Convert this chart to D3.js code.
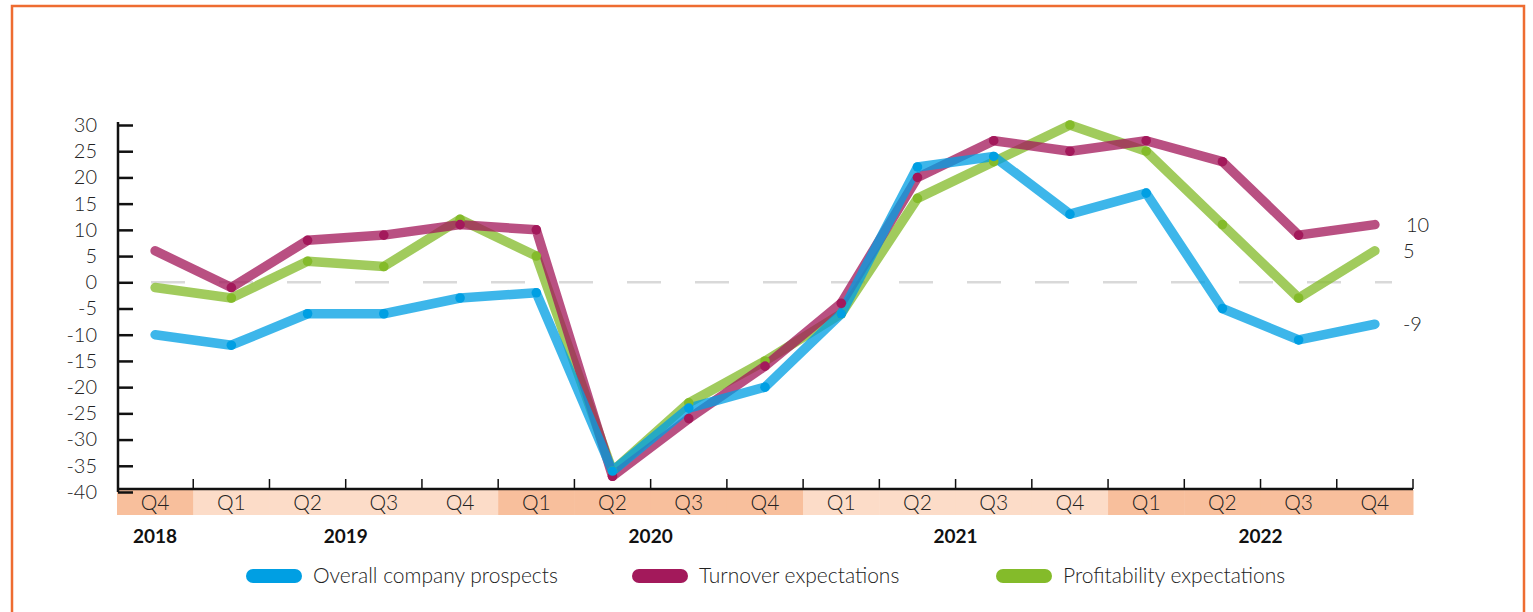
<!DOCTYPE html>
<html>
<head>
<meta charset="utf-8">
<script src="https://cdn.jsdelivr.net/npm/d3@7"></script>
<style>
  body { margin: 0; background: #fff; }
  svg { display: block; font-family: Lato, "Noto Sans", sans-serif; }
</style>
</head>
<body>
<div id="chart"></div>
<script>
const WIDTH = 1533;
const HEIGHT = 612;

// quarters on the x axis, with the year each belongs to
const quarters = ['Q4', 'Q1', 'Q2', 'Q3', 'Q4', 'Q1', 'Q2', 'Q3', 'Q4', 'Q1', 'Q2', 'Q3', 'Q4', 'Q1', 'Q2', 'Q3', 'Q4'];
const quarterYears = ['2018', '2019', '2019', '2019', '2019', '2020', '2020', '2020', '2020', '2021', '2021', '2021', '2021', '2022', '2022', '2022', '2022'];
const years = ['2018', '2019', '2020', '2021', '2022'];

// series values
const overall = [-10, -12, -6, -6, -3, -2, -36, -24, -20, -6, 22, 24, 13, 17, -5, -11, -8];
const turnover = [6, -1, 8, 9, 11, 10, -37, -26, -16, -4, 20, 27, 25, 27, 23, 9, 11];
const profitability = [-1, -3, 4, 3, 12, 5, -36, -23, -15, -6, 16, 23, 30, 25, 11, -3, 6];

const seriesNames = ['Overall company prospects', 'Turnover expectations', 'Profitability expectations'];
const endLabels = ['-9', '10', '5'];
const yTicks = [30, 25, 20, 15, 10, 5, 0, -5, -10, -15, -20, -25, -30, -35, -40];

const colors = {
  overall: '#009fe3',
  turnover: '#a3195b',
  profitability: '#84bb2a'
};

const series = [
  { key: 'overall', name: seriesNames[0], values: overall, label: endLabels[0] },
  { key: 'turnover', name: seriesNames[1], values: turnover, label: endLabels[1] },
  { key: 'profitability', name: seriesNames[2], values: profitability, label: endLabels[2] }
];

const svg = d3.select('#chart')
  .append('svg')
  .attr('width', WIDTH)
  .attr('height', HEIGHT);

// orange frame (open at the bottom)
svg.append('path')
  .attr('d', 'M12,612 V6 H1524 V612')
  .attr('fill', 'none')
  .attr('stroke', '#ee6c31')
  .attr('stroke-width', 2.5);

const idx = d3.range(quarters.length);

const x = d3.scaleBand()
  .domain(idx)
  .range([117, 1413])
  .padding(0);

const cx = i => x(i) + x.bandwidth() / 2;

const y = d3.scaleLinear()
  .domain([-40, 30])
  .range([492, 125]);

// quarter bands under the x axis
const bands = svg.append('g');
bands.selectAll('rect')
  .data(idx)
  .enter()
  .append('rect')
  .attr('x', i => x(i))
  .attr('y', 490)
  .attr('width', x.bandwidth() + 0.5)
  .attr('height', 25)
  .attr('fill', i => years.indexOf(quarterYears[i]) % 2 === 0 ? '#f8bf9c' : '#fcdcc8');

bands.selectAll('text')
  .data(idx)
  .enter()
  .append('text')
  .attr('x', i => cx(i))
  .attr('y', 503)
  .attr('dy', '0.35em')
  .attr('text-anchor', 'middle')
  .style('font-size', '21px')
  .style('font-weight', 300)
  .style('fill', '#222')
  .text(i => quarters[i]);

// year labels centred under their quarters
svg.append('g')
  .selectAll('text')
  .data(years)
  .enter()
  .append('text')
  .attr('x', yr => {
    const qs = idx.filter(i => quarterYears[i] === yr);
    return (x(qs[0]) + x(qs[qs.length - 1]) + x.bandwidth()) / 2;
  })
  .attr('y', 536)
  .attr('dy', '0.35em')
  .attr('text-anchor', 'middle')
  .style('font-size', '19px')
  .style('font-weight', 700)
  .style('fill', '#111')
  .text(d => d);

// zero line
svg.append('line')
  .attr('x1', 140)
  .attr('x2', 1392)
  .attr('y1', y(0))
  .attr('y2', y(0))
  .attr('stroke', '#d9d9d9')
  .attr('stroke-width', 2.5)
  .attr('stroke-dasharray', '34 34')
  .attr('stroke-dashoffset', 57);

// x axis line and boundary ticks
const xAxis = svg.append('g');
xAxis.append('line')
  .attr('x1', 117)
  .attr('x2', 1413)
  .attr('y1', 489)
  .attr('y2', 489)
  .attr('stroke', '#111')
  .attr('stroke-width', 2.5);
xAxis.selectAll('.tick')
  .data(idx)
  .enter()
  .append('line')
  .attr('x1', i => x(i) + x.bandwidth())
  .attr('x2', i => x(i) + x.bandwidth())
  .attr('y1', 479)
  .attr('y2', 489)
  .attr('stroke', '#111')
  .attr('stroke-width', 1.5);

// y axis, ticks pointing inward
const yAxis = svg.append('g')
  .attr('transform', 'translate(118,0)')
  .call(d3.axisLeft(y)
    .tickValues(yTicks)
    .tickFormat(d => String(d))
    .tickSize(-15)
    .tickSizeOuter(0)
    .tickPadding(21));
yAxis.select('.domain')
  .attr('stroke', '#111')
  .attr('stroke-width', 2.5)
  .attr('d', `M0,${y(30) - 3}V${y(-40)}`);
yAxis.selectAll('.tick line')
  .attr('stroke', '#111')
  .attr('stroke-width', 2.5);
yAxis.selectAll('.tick text')
  .style('font-size', '20px')
  .style('font-weight', 300)
  .style('font-family', 'Lato, sans-serif')
  .style('fill', '#222');

// lines, drawn green then red then blue
const line = d3.line()
  .x((d, i) => cx(i))
  .y(d => y(d));

const drawOrder = [series[2], series[1], series[0]];

const lines = svg.append('g');
drawOrder.forEach(s => {
  lines.append('path')
    .datum(s.values)
    .attr('d', line)
    .attr('fill', 'none')
    .attr('stroke', colors[s.key])
    .attr('stroke-opacity', 0.76)
    .attr('stroke-width', 9.5)
    .attr('stroke-linecap', 'round')
    .attr('stroke-linejoin', 'round');
});

drawOrder.forEach(s => {
  lines.selectAll(null)
    .data(s.values.slice(1, -1))
    .enter()
    .append('circle')
    .attr('cx', (d, i) => cx(i + 1))
    .attr('cy', d => y(d))
    .attr('r', 4.8)
    .attr('fill', colors[s.key]);
});

// end labels
svg.append('g')
  .selectAll('text')
  .data(series)
  .enter()
  .append('text')
  .attr('x', d => cx(quarters.length - 1) + (d.label.length > 1 && d.label[0] !== '-' ? 31 : 28))
  .attr('y', d => y(d.values[d.values.length - 1]))
  .attr('dy', '0.35em')
  .style('font-size', '20px')
  .style('font-weight', 300)
  .style('fill', '#222')
  .text(d => d.label);

// legend
const legendX = [246, 632, 996];
const legend = svg.append('g');
const items = legend.selectAll('g')
  .data(series)
  .enter()
  .append('g')
  .attr('transform', (d, i) => `translate(${legendX[i]},576)`);
items.append('rect')
  .attr('x', 0)
  .attr('y', -7)
  .attr('width', 56)
  .attr('height', 14)
  .attr('rx', 7)
  .attr('fill', d => colors[d.key]);
items.append('text')
  .attr('x', 67)
  .attr('y', 0)
  .attr('dy', '0.35em')
  .style('font-size', '21px')
  .style('font-weight', 300)
  .style('fill', '#222')
  .text(d => d.name);
</script>
</body>
</html>
